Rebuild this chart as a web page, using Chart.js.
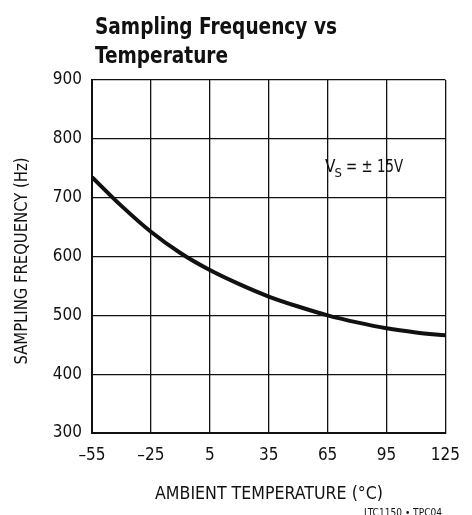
<!DOCTYPE html>
<html>
<head>
<meta charset="utf-8">
<script src="https://cdn.jsdelivr.net/npm/chart.js@4.4.0/dist/chart.umd.min.js"></script>
<style>
html,body{margin:0;padding:0;background:#fff;}
#wrap{width:472px;height:515px;position:relative;}
</style>
</head>
<body>
<div id="wrap"><canvas id="c" width="472" height="515"></canvas></div>
<script>
const titleLines = ["Sampling Frequency vs", "Temperature"];
const xTitle = "AMBIENT TEMPERATURE (°C)";
const yTitle = "SAMPLING FREQUENCY (Hz)";
const xTicks = [-55, -25, 5, 35, 65, 95, 125];
const yTicks = [300, 400, 500, 600, 700, 800, 900];
const temperature = [-55, -40, -25, -10, 5, 20, 35, 50, 65, 80, 95, 110, 125];
const frequency =   [735, 686, 642, 606, 577, 553, 532, 515, 500, 488, 478, 471, 466];
const noteMain = "V";
const noteSub = "S";
const noteRest = " = ± 15V";
const footnote = "LTC1150 • TPC04";

const FONT = "'Liberation Sans Narrow', 'DejaVu Sans Condensed', 'Roboto Condensed', sans-serif";
const INK = '#111';

function fitText(ctx, text, x, y, width, rot) {
  const w0 = ctx.measureText(text).width;
  ctx.save();
  ctx.translate(x, y);
  if (rot) ctx.rotate(rot);
  ctx.scale(width / w0, 1);
  ctx.fillText(text, 0, 0);
  ctx.restore();
}

const textPlugin = {
  id: 'texts',
  afterDraw(chart) {
    const ctx = chart.ctx;
    ctx.save();
    ctx.fillStyle = INK;
    ctx.textBaseline = 'alphabetic';
    // title
    ctx.font = "bold 23px " + FONT;
    ctx.textAlign = 'left';
    const sx = 242 / ctx.measureText(titleLines[0]).width;
    const baselines = [34, 63];
    titleLines.forEach((t, i) => {
      const w = ctx.measureText(t).width * sx;
      fitText(ctx, t, 95, baselines[i], w, 0);
    });
    // axis titles
    ctx.font = "18px " + FONT;
    ctx.textAlign = 'center';
    fitText(ctx, xTitle, 269, 499, 228, 0);
    ctx.font = "17px " + FONT;
    fitText(ctx, yTitle, 27, 261, 207, -Math.PI / 2);
    // annotation
    ctx.textAlign = 'left';
    const ax = 325, ay = 172;
    ctx.font = "17px " + FONT;
    ctx.fillText(noteMain, ax, ay);
    let x = ax + ctx.measureText(noteMain).width;
    ctx.font = "13px " + FONT;
    ctx.fillText(noteSub, x - 1, ay + 5);
    x += ctx.measureText(noteSub).width - 1;
    ctx.font = "17px " + FONT;
    const restW = 403 - x;
    fitText(ctx, noteRest, x, ay, Math.min(restW, ctx.measureText(noteRest).width), 0);
    // footnote
    ctx.font = "11px " + FONT;
    ctx.textAlign = 'left';
    fitText(ctx, footnote, 364, 516, 78, 0);
    ctx.restore();
  }
};

new Chart(document.getElementById('c'), {
  type: 'line',
  data: {
    datasets: [{
      data: temperature.map((t, i) => ({x: t, y: frequency[i]})),
      borderColor: INK,
      borderWidth: 4,
      pointRadius: 0,
      cubicInterpolationMode: 'monotone',
      fill: false
    }]
  },
  options: {
    responsive: false,
    animation: false,
    devicePixelRatio: 1,
    layout: { padding: { top: 80, right: 25, bottom: 0, left: 0 } },
    plugins: { legend: { display: false }, tooltip: { enabled: false }, title: { display: false } },
    scales: {
      x: {
        type: 'linear',
        min: xTicks[0], max: xTicks[xTicks.length - 1],
        afterBuildTicks: s => { s.ticks = xTicks.map(v => ({value: v})); },
        afterFit: s => { s.height = 82; },
        ticks: {
          color: INK, font: { family: FONT, size: 17 }, padding: 12,
          callback: v => (v < 0 ? '\u2013' + Math.abs(v) : String(v)), maxRotation: 0, autoSkip: false
        },
        grid: { color: INK, lineWidth: 1.3, drawTicks: false },
        border: { color: INK, width: 2 },
        title: { display: false }
      },
      y: {
        min: yTicks[0], max: yTicks[yTicks.length - 1],
        afterBuildTicks: s => { s.ticks = yTicks.map(v => ({value: v})); },
        afterFit: s => { s.width = 92; },
        ticks: { color: INK, font: { family: FONT, size: 17 }, padding: 10, autoSkip: false },
        grid: { color: INK, lineWidth: 1.3, drawTicks: false },
        border: { color: INK, width: 2 },
        title: { display: false }
      }
    }
  },
  plugins: [textPlugin]
});
</script>
</body>
</html>
